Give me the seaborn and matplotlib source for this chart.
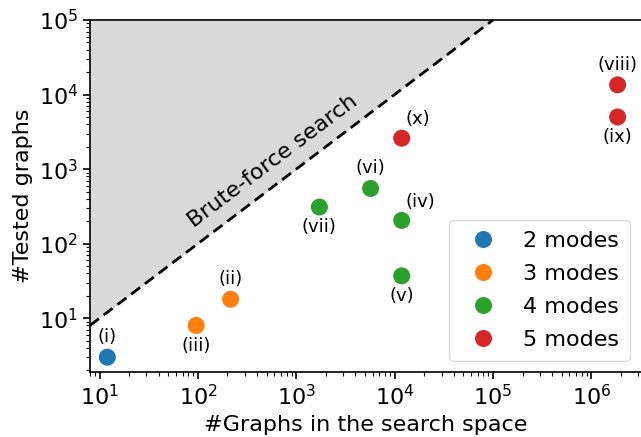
import numpy as np
import pandas as pd
import matplotlib
matplotlib.use("Agg")
import matplotlib.pyplot as plt
import seaborn as sns

labels = ["(i)", "(ii)", "(iii)", "(iv)", "(v)", "(vi)", "(vii)", "(viii)", "(ix)", "(x)"]
modes = ["2 modes", "3 modes", "3 modes", "4 modes", "4 modes", "4 modes", "4 modes",
         "5 modes", "5 modes", "5 modes"]
search_space = [12, 215, 96, 11800, 11800, 5700, 1720, 1.85e6, 1.85e6, 11800]
tested = [3, 18, 8, 205, 37, 550, 310, 13500, 5000, 2600]
label_pos = ["above", "above", "below", "aboveright", "below", "above", "below",
             "above", "below", "aboveright"]
mode_order = ["2 modes", "3 modes", "4 modes", "5 modes"]

df = pd.DataFrame({"x": search_space, "y": tested, "modes": modes, "label": labels})

sns.set_style("ticks")
plt.rcParams["font.family"] = ["DejaVu Sans"]
plt.rcParams.update({"text.color": "black", "axes.labelcolor": "black",
                     "xtick.color": "black", "ytick.color": "black",
                     "axes.edgecolor": "black"})

fig = plt.figure(figsize=(6.41, 4.37), dpi=100)
ax = fig.add_axes([90 / 641, 65 / 437, 551 / 641, 352 / 437])

xmin, xmax = 8, 3.2e6
ymin, ymax = 1.9, 1e5
line_x = np.array([xmin, ymax])
ax.fill_between(line_x, line_x, ymax, color="#d9d9d9", zorder=0, lw=0)
ax.plot(line_x, line_x, "k--", lw=2, dashes=(4, 2.2), zorder=1)

sns.scatterplot(data=df, x="x", y="y", hue="modes", hue_order=mode_order,
                palette="tab10", s=150, edgecolor="none", ax=ax, zorder=3)

for xv, yv, lab, pos in zip(search_space, tested, labels, label_pos):
    if pos == "above":
        ax.annotate(lab, (xv, yv), xytext=(0, 8), textcoords="offset points",
                    ha="center", va="bottom", fontsize=13)
    elif pos == "below":
        ax.annotate(lab, (xv, yv), xytext=(0, -8), textcoords="offset points",
                    ha="center", va="top", fontsize=13)
    else:
        ax.annotate(lab, (xv, yv), xytext=(3, 7), textcoords="offset points",
                    ha="left", va="bottom", fontsize=13)

ax.text(0.332, 0.6, "Brute-force search", transform=ax.transAxes, rotation=37,
        ha="center", va="center", fontsize=16)

ax.set_xscale("log")
ax.set_yscale("log")
ax.set_xlim(xmin, xmax)
ax.set_ylim(ymin, ymax)
ax.set_xlabel("#Graphs in the search space", fontsize=16)
ax.set_ylabel("#Tested graphs", fontsize=16)
ax.tick_params(axis="both", which="major", labelsize=16, length=5, width=1.2)
ax.tick_params(axis="both", which="minor", length=3, width=0.8)
ax.spines["right"].set_visible(False)
for s in ["left", "bottom", "top"]:
    ax.spines[s].set_linewidth(1.2)

leg = ax.legend(loc="lower right", fontsize=16, markerscale=1.0, handletextpad=0.8,
                borderpad=0.5, labelspacing=0.58, frameon=True)
fig.savefig("out.png", dpi=100)
